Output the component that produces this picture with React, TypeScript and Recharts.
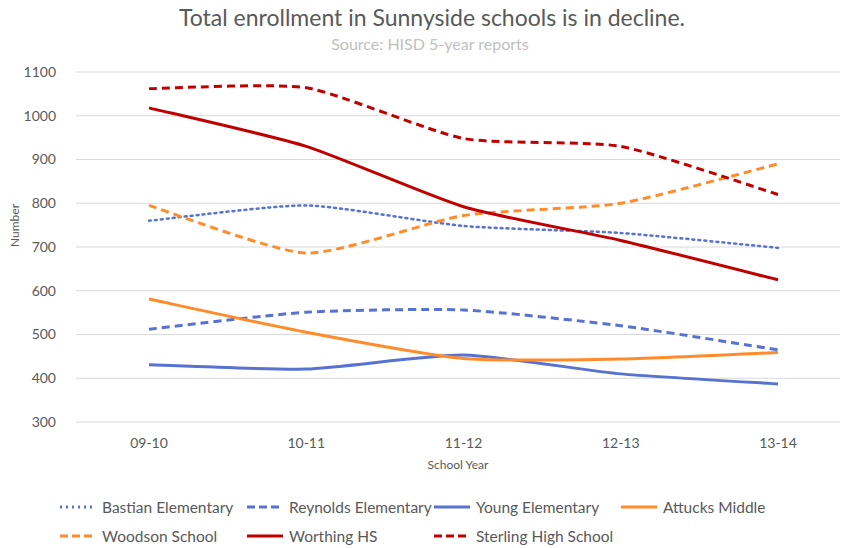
import { LineChart, Line, XAxis, YAxis, CartesianGrid } from 'recharts';

const years = ['09-10', '10-11', '11-12', '12-13', '13-14'];
const bastian = [760, 795, 748, 732, 698];
const reynolds = [512, 551, 556, 520, 465];
const young = [431, 421, 453, 410, 387];
const attucks = [581, 505, 445, 444, 459];
const woodson = [795, 686, 772, 800, 890];
const worthing = [1018, 930, 792, 715, 625];
const sterling = [1062, 1064, 948, 930, 820];
const yTicks = [300, 400, 500, 600, 700, 800, 900, 1000, 1100];

const BLUE = '#5872d2';
const ORANGE = '#ff8c2a';
const RED = '#c00000';

const series = [
  { key: 'bastian', name: 'Bastian Elementary', values: bastian, color: BLUE, dash: '2 4', width: 2.5 },
  { key: 'reynolds', name: 'Reynolds Elementary', values: reynolds, color: BLUE, dash: '8 5', width: 3 },
  { key: 'young', name: 'Young Elementary', values: young, color: BLUE, dash: undefined, width: 3 },
  { key: 'attucks', name: 'Attucks Middle', values: attucks, color: ORANGE, dash: undefined, width: 3 },
  { key: 'woodson', name: 'Woodson School', values: woodson, color: ORANGE, dash: '8 5', width: 3 },
  { key: 'worthing', name: 'Worthing HS', values: worthing, color: RED, dash: undefined, width: 3 },
  { key: 'sterling', name: 'Sterling High School', values: sterling, color: RED, dash: '8 5', width: 3 },
];

const data = years.map((year, i) => {
  const row: Record<string, string | number> = { year };
  series.forEach((s) => {
    row[s.key] = s.values[i];
  });
  return row;
});

// light smoothing, roughly like Excel's "smoothed line"
const softCurve = (context: any) => {
  let pts: number[][] = [];
  const k = 1 / 10;
  return {
    areaStart() {},
    areaEnd() {},
    lineStart() {
      pts = [];
    },
    point(x: number, y: number) {
      pts.push([+x, +y]);
    },
    lineEnd() {
      if (!pts.length) return;
      context.moveTo(pts[0][0], pts[0][1]);
      for (let i = 0; i < pts.length - 1; i++) {
        const p0 = pts[Math.max(i - 1, 0)];
        const p1 = pts[i];
        const p2 = pts[i + 1];
        const p3 = pts[Math.min(i + 2, pts.length - 1)];
        context.bezierCurveTo(
          p1[0] + (p2[0] - p0[0]) * k,
          p1[1] + (p2[1] - p0[1]) * k,
          p2[0] - (p3[0] - p1[0]) * k,
          p2[1] - (p3[1] - p1[1]) * k,
          p2[0],
          p2[1],
        );
      }
    },
  };
};

const FONT = 'Lato, "Open Sans", sans-serif';
const GREY = '#595959';

export default function App() {
  return (
    <div style={{ position: 'absolute', left: 0, top: 0, width: 846, height: 548, background: '#fff', fontFamily: FONT }}>
      <div style={{ position: 'absolute', top: 3, left: 9, width: 846, textAlign: 'center', fontSize: 23, color: GREY }}>
        Total enrollment in Sunnyside schools is in decline.
      </div>
      <div style={{ position: 'absolute', top: 34, left: 7, width: 846, textAlign: 'center', fontSize: 16, color: '#bfbfbf' }}>
        Source: HISD 5-year reports
      </div>
      <div style={{ position: 'absolute', left: 0, top: 0 }}>
        <LineChart width={846} height={548} data={data} margin={{ top: 72, right: 6, left: 0, bottom: 70 }}>
          <CartesianGrid vertical={false} stroke="#d9d9d9" />
          <XAxis
            dataKey="year"
            padding={{ left: 73, right: 62 }}
            axisLine={false}
            tickLine={false}
            tick={{ fill: GREY, fontSize: 14, fontFamily: FONT }}
            tickMargin={10}
            height={56}
            label={{ value: 'School Year', position: 'insideBottom', offset: 9, fill: GREY, fontSize: 12, fontFamily: FONT }}
          />
          <YAxis
            domain={[300, 1100]}
            ticks={yTicks}
            width={76}
            axisLine={false}
            tickLine={false}
            tick={{ fill: GREY, fontSize: 14, fontFamily: FONT }}
            tickMargin={14}
            label={{ value: 'Number', angle: -90, position: 'insideLeft', offset: 15, fill: GREY, fontSize: 12, fontFamily: FONT }}
          />
          {series.map((s) => (
            <Line
              key={s.key}
              type={softCurve as any}
              dataKey={s.key}
              name={s.name}
              stroke={s.color}
              strokeWidth={s.width}
              strokeDasharray={s.dash}
              strokeLinecap={s.key === 'bastian' ? 'round' : 'butt'}
              dot={false}
              activeDot={false}
              isAnimationActive={false}
            />
          ))}
        </LineChart>
      </div>
      <div style={{ position: 'absolute', left: 59, top: 497, width: 790, display: 'flex', flexWrap: 'wrap', rowGap: 9 }}>
        {series.map((s) => (
          <div key={s.key} style={{ width: 187, display: 'flex', alignItems: 'center', height: 20, whiteSpace: 'nowrap' }}>
            <svg width={38} height={10} style={{ flex: 'none' }}>
              <line
                x1={1}
                y1={5}
                x2={37}
                y2={5}
                stroke={s.color}
                strokeWidth={3}
                strokeDasharray={s.key === 'bastian' ? '2 4' : s.dash ? '8 4' : undefined}
              />
            </svg>
            <span style={{ fontSize: 15.5, color: GREY, marginLeft: 5 }}>{s.name}</span>
          </div>
        ))}
      </div>
    </div>
  );
}
